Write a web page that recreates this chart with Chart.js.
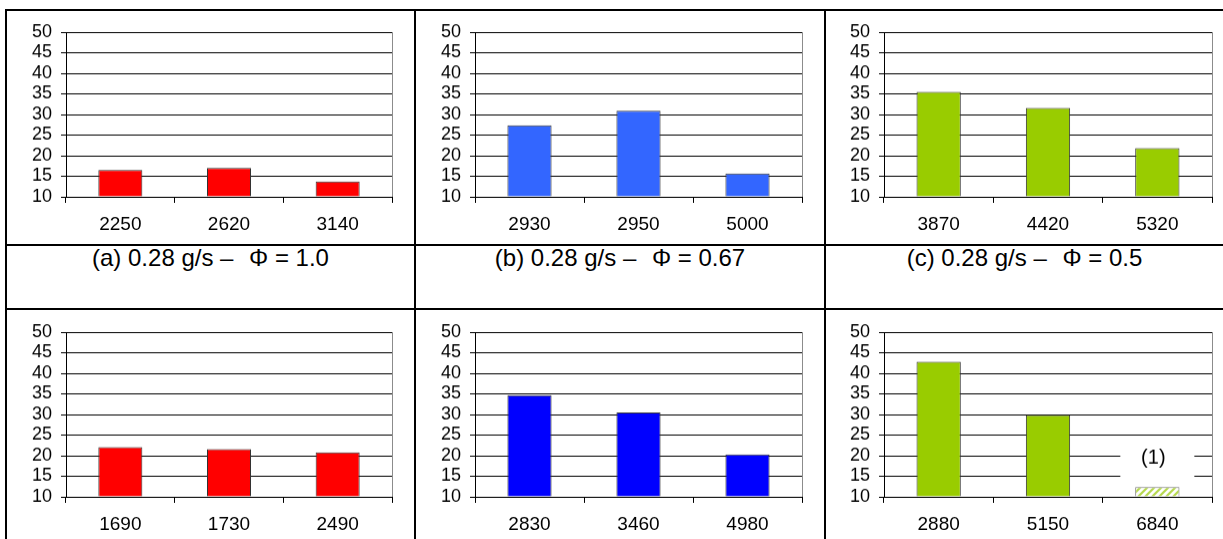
<!DOCTYPE html>
<html>
<head>
<meta charset="utf-8">
<script src="https://cdn.jsdelivr.net/npm/chart.js@4.4.0/dist/chart.umd.min.js"></script>
<style>
  html, body { margin: 0; padding: 0; background: #fff; }
  #page { position: relative; width: 1223px; height: 539px; overflow: hidden;
          font-family: "Liberation Sans", Arial, sans-serif; }
  .hl { position: absolute; height: 2px; background: #000; }
  .vl { position: absolute; width: 2px; background: #000; }
  .title { position: absolute; text-align: center; font-size: 24px; line-height: 28px;
           color: #000; white-space: pre; }
  .phi { padding: 0 0 0 9px; }
  canvas { position: absolute; }
</style>
</head>
<body>
<div id="page">
  <!-- table frame -->
  <div class="hl" style="left:5px; top:9px; width:1218px;"></div>
  <div class="hl" style="left:5px; top:244px; width:1218px;"></div>
  <div class="hl" style="left:5px; top:308px; width:1218px;"></div>
  <div class="vl" style="left:5px; top:9px; height:530px;"></div>
  <div class="vl" style="left:414px; top:9px; height:530px;"></div>
  <div class="vl" style="left:824px; top:9px; height:530px;"></div>

  <div class="title" id="tA" style="left:7px; width:407px; top:244px;"></div>
  <div class="title" id="tB" style="left:416px; width:408px; top:244px;"></div>
  <div class="title" id="tC" style="left:826px; width:397px; top:244px;"></div>

  <canvas id="cA"></canvas>
  <canvas id="cB"></canvas>
  <canvas id="cC"></canvas>
  <canvas id="cD"></canvas>
  <canvas id="cE"></canvas>
  <canvas id="cF"></canvas>
</div>

<script>
// ---- data ----
const yTicks = [10, 15, 20, 25, 30, 35, 40, 45, 50];

const catsA = ['2250', '2620', '3140'];
const valsA = [16.5, 17.0, 13.7];

const catsB = ['2930', '2950', '5000'];
const valsB = [27.4, 30.9, 15.7];

const catsC = ['3870', '4420', '5320'];
const valsC = [35.5, 31.6, 21.8];

const catsD = ['1690', '1730', '2490'];
const valsD = [22.1, 21.6, 20.8];

const catsE = ['2830', '3460', '4980'];
const valsE = [34.7, 30.5, 20.3];

const catsF = ['2880', '5150', '6840'];
const valsF = [42.8, 29.9, 12.4];

const noteF = '(1)';
const titleA = ['(a) 0.28 g/s – ', 'Φ', ' = 1.0'];
const titleB = ['(b) 0.28 g/s – ', 'Φ', ' = 0.67'];
const titleC = ['(c) 0.28 g/s – ', 'Φ', ' = 0.5'];

// ---- titles ----
function setTitle(id, parts) {
  const el = document.getElementById(id);
  el.appendChild(document.createTextNode(parts[0]));
  const s = document.createElement('span');
  s.className = 'phi';
  s.textContent = parts[1];
  el.appendChild(s);
  el.appendChild(document.createTextNode(parts[2]));
}
setTitle('tA', titleA);
setTitle('tB', titleB);
setTitle('tC', titleC);

// ---- styles ----
const FONT = '"Liberation Sans", Arial, sans-serif';
const RED = '#ff0000';
const LIGHT_BLUE = '#3366ff';
const GREEN = '#99cc00';
const BLUE = '#0000ff';

function hatchPattern() {
  const size = 7;
  const c = document.createElement('canvas');
  c.width = size; c.height = size;
  const g = c.getContext('2d');
  g.fillStyle = '#ffffff';
  g.fillRect(0, 0, size, size);
  g.strokeStyle = '#b4d84a';
  g.lineWidth = 2.2;
  g.beginPath();
  g.moveTo(-1, size + 1); g.lineTo(size + 1, -1);
  g.moveTo(-1, 1); g.lineTo(1, -1);
  g.moveTo(size - 1, size + 1); g.lineTo(size + 1, size - 1);
  g.stroke();
  return g.createPattern(c, 'repeat');
}

// grey right-hand edge of the plot area
const plotEdge = {
  id: 'plotEdge',
  afterDraw(chart) {
    const a = chart.chartArea, ctx = chart.ctx;
    ctx.save();
    ctx.strokeStyle = '#8c8c8c';
    ctx.lineWidth = 1;
    const x = Math.round(a.right) + 0.5;
    ctx.beginPath();
    ctx.moveTo(x, a.top);
    ctx.lineTo(x, a.bottom);
    ctx.stroke();
    ctx.restore();
  }
};

// white label box with the "(1)" note above the last bar
const noteBox = {
  id: 'noteBox',
  beforeDatasetsDraw(chart) {
    const xs = chart.scales.x, ys = chart.scales.y, ctx = chart.ctx;
    const cx = xs.getPixelForValue(2);
    const top = ys.getPixelForValue(24.7);
    const bottom = ys.getPixelForValue(13.9);
    ctx.save();
    ctx.fillStyle = '#ffffff';
    ctx.fillRect(cx - 37, top, 74, bottom - top);
    ctx.fillStyle = '#000';
    ctx.font = '20px ' + FONT;
    ctx.textAlign = 'center';
    ctx.textBaseline = 'middle';
    ctx.fillText(noteF, cx - 4, ys.getPixelForValue(19.4));
    ctx.restore();
  }
};

const PAD_L = 62, PAD_T = 24, PAD_R = 8, PAD_B = 44;

function makeChart(id, rect, cats, vals, colors, borders, extra) {
  const cv = document.getElementById(id);
  const w = rect.r - rect.l + PAD_L + PAD_R;
  const h = rect.b - rect.t + PAD_T + PAD_B;
  cv.width = w; cv.height = h;
  cv.style.left = (rect.l - PAD_L) + 'px';
  cv.style.top = (rect.t - PAD_T) + 'px';
  cv.style.width = w + 'px';
  cv.style.height = h + 'px';
  return new Chart(cv, {
    type: 'bar',
    data: {
      labels: cats,
      datasets: [{
        data: vals,
        base: 10,
        backgroundColor: colors,
        borderColor: borders,
        borderWidth: 1,
        barPercentage: 0.405,
        categoryPercentage: 1
      }]
    },
    options: {
      responsive: false,
      animation: false,
      devicePixelRatio: 1,
      layout: { padding: { left: 0, top: PAD_T, right: PAD_R, bottom: 0 } },
      plugins: { legend: { display: false }, tooltip: { enabled: false } },
      scales: {
        x: {
          offset: true,
          grid: { offset: true, drawOnChartArea: false, drawTicks: true,
                  tickLength: 6, color: '#000', lineWidth: 1 },
          border: { color: '#000', width: 1 },
          ticks: { color: '#000', font: { family: FONT, size: 19 },
                   padding: 10, maxRotation: 0, autoSkip: false },
          afterFit(s) { s.height = PAD_B; }
        },
        y: {
          min: 10, max: 50,
          afterBuildTicks(s) { s.ticks = yTicks.map(v => ({ value: v })); },
          grid: { color: '#000', lineWidth: 1, drawTicks: true, tickLength: 5 },
          border: { color: '#000', width: 1 },
          ticks: { color: '#000', font: { family: FONT, size: 18, lineHeight: 1 },
                   padding: 9, autoSkip: false, stepSize: 5 },
          afterFit(s) { s.width = PAD_L; }
        }
      }
    },
    plugins: [plotEdge].concat(extra || [])
  });
}

const top1 = 32.3, bot1 = 196.7, top2 = 332.3, bot2 = 496.7;
const colA = { l: 66, r: 392 }, colB = { l: 475, r: 802 }, colC = { l: 884, r: 1212 };

const k = '#333333';
makeChart('cA', { l: colA.l, r: colA.r, t: top1, b: bot1 }, catsA, valsA, RED, k);
makeChart('cB', { l: colB.l, r: colB.r, t: top1, b: bot1 }, catsB, valsB, LIGHT_BLUE, k);
makeChart('cC', { l: colC.l, r: colC.r, t: top1, b: bot1 }, catsC, valsC, GREEN, k);
makeChart('cD', { l: colA.l, r: colA.r, t: top2, b: bot2 }, catsD, valsD, RED, k);
makeChart('cE', { l: colB.l, r: colB.r, t: top2, b: bot2 }, catsE, valsE, BLUE, k);
makeChart('cF', { l: colC.l, r: colC.r, t: top2, b: bot2 }, catsF, valsF,
          [GREEN, GREEN, hatchPattern()], [k, k, '#777777'], [noteBox]);
</script>
</body>
</html>
